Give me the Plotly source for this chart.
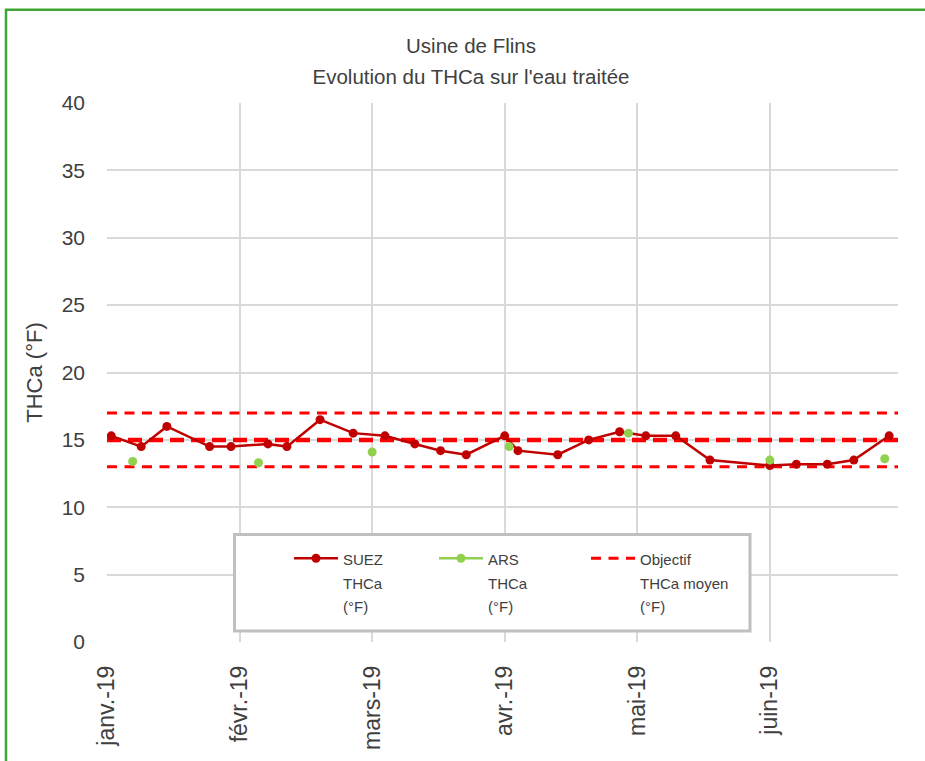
import plotly.graph_objects as go
import pandas as pd

# ---------------- data ----------------
title_lines = ["Usine de Flins", "Evolution du THCa sur l'eau traitée"]
y_axis_title = "THCa (°F)"
month_labels = ["janv.-19", "févr.-19", "mars-19", "avr.-19", "mai-19", "juin-19"]
axis_start_date = "2019-01-01"
axis_end_date = "2019-06-30"

suez_dates = ["2019-01-02", "2019-01-09", "2019-01-15", "2019-01-25", "2019-01-30",
              "2019-02-07", "2019-02-11", "2019-02-18", "2019-02-25", "2019-03-04",
              "2019-03-11", "2019-03-17", "2019-03-23", "2019-04-01", "2019-04-04",
              "2019-04-13", "2019-04-20", "2019-04-27", "2019-05-03", "2019-05-10",
              "2019-05-18", "2019-06-01", "2019-06-07", "2019-06-14", "2019-06-20",
              "2019-06-28"]
suez_values = [15.3, 14.5, 16.0, 14.5, 14.5,
               14.7, 14.5, 16.5, 15.5, 15.3,
               14.7, 14.2, 13.9, 15.3, 14.2,
               13.9, 15.0, 15.6, 15.3, 15.3,
               13.5, 13.1, 13.2, 13.2, 13.5,
               15.3]

ars_dates = ["2019-01-07", "2019-02-05", "2019-03-01", "2019-04-02",
             "2019-04-29", "2019-06-01", "2019-06-27"]
ars_values = [13.4, 13.3, 14.1, 14.5, 15.5, 13.5, 13.6]

objectif_values = [13, 15, 17]          # min, moyen, max
objectif_widths = [3, 4.5, 3]
objectif_dashes = ["10px,7.5px", "14px,7px", "10px,7.5px"]

suez_lines = ["SUEZ", "THCa", "(°F)"]
ars_lines = ["ARS", "THCa", "(°F)"]
obj_lines = ["Objectif", "THCa moyen", "(°F)"]

# ---------------- helpers ----------------
def month_pos(d):
    ts = pd.Timestamp(d)
    return (ts.month - 1) + (ts.day - 1) / ts.days_in_month

def small(lines, size):
    return "<br>".join(f'<span style="font-size:{size}px">{t}</span>' for t in lines)

x_start = month_pos(axis_start_date)
x_end = month_pos(axis_end_date)
suez_x = [month_pos(d) for d in suez_dates]
ars_x_pts = [month_pos(d) for d in ars_dates]
ars_x, ars_y = [], []
for xv, yv in zip(ars_x_pts, ars_values):
    ars_x += [xv, None]
    ars_y += [yv, None]

W, H = 925, 761
L, R, T, B = 107, 27, 103, 119
pw, ph = W - L - R, H - T - B

def px_x(p):
    return (p - L) / pw

def px_y(p):
    return (H - B - p) / ph

FONT = "Liberation Sans, Arial, sans-serif"
TXT = "#404040"
GRID = "#D9D9D9"

fig = go.Figure()

# objective lines
for i, (v, w, d) in enumerate(zip(objectif_values, objectif_widths, objectif_dashes)):
    fig.add_trace(go.Scatter(
        x=[x_start, x_end], y=[v, v], mode="lines",
        line=dict(color="#FF0000", width=w, dash=d),
        name=small(obj_lines, 15), legend="legend3", legendgroup="obj",
        showlegend=(i == 0), hoverinfo="skip"))

fig.add_trace(go.Scatter(
    x=suez_x, y=suez_values, mode="lines+markers",
    line=dict(color="#C00000", width=2.5),
    marker=dict(color="#C00000", size=9),
    name=small(suez_lines, 15), legend="legend"))

fig.add_trace(go.Scatter(
    x=ars_x, y=ars_y, mode="lines+markers", connectgaps=False,
    line=dict(color="#92D050", width=2.5),
    marker=dict(color="#92D050", size=9),
    name=small(ars_lines, 15), legend="legend2"))

legend_common = dict(
    orientation="v", xanchor="left", yanchor="top",
    bgcolor="rgba(0,0,0,0)", borderwidth=0, valign="top",
    font=dict(family=FONT, size=18, color=TXT), itemwidth=44,
    tracegroupgap=0)

fig.update_layout(
    width=W, height=H,
    margin=dict(l=L, r=R, t=T, b=B),
    paper_bgcolor="white", plot_bgcolor="white",
    title=dict(text=small(title_lines, 20.5), x=471 / W, xanchor="center",
               xref="container", yref="container", y=1 - 53 / H, yanchor="top",
               font=dict(family=FONT, size=24, color=TXT)),
    xaxis=dict(range=[x_start, x_end], tickmode="array",
               tickvals=list(range(len(month_labels))), ticktext=month_labels,
               tickangle=-90, showgrid=True, gridcolor=GRID, gridwidth=1.5,
               showline=False, zeroline=False, ticks="", ticklabelstandoff=18,
               tickfont=dict(family=FONT, size=23, color=TXT)),
    yaxis=dict(range=[0, 40], dtick=5, showgrid=True, gridcolor=GRID, gridwidth=1.5,
               zeroline=False, showline=False, ticks="", ticklabelstandoff=21,
               tickfont=dict(family=FONT, size=21, color=TXT),
               title=dict(text=y_axis_title, standoff=12,
                          font=dict(family=FONT, size=22, color=TXT))),
    legend=dict(x=px_x(289), y=px_y(540), **legend_common),
    legend2=dict(x=px_x(434), y=px_y(540), **legend_common),
    legend3=dict(x=px_x(586), y=px_y(540), **legend_common),
    showlegend=True,
)

# legend box
fig.add_shape(type="rect", xref="paper", yref="paper",
              x0=px_x(234.5), x1=px_x(750), y0=px_y(631), y1=px_y(534.5),
              line=dict(color="#BFBFBF", width=3), fillcolor="white", layer="above")
# outer green frame
fig.add_shape(type="rect", xref="paper", yref="paper",
              x0=px_x(6), x1=px_x(940), y0=px_y(780), y1=px_y(9.7),
              line=dict(color="#3FA535", width=2.5), fillcolor="rgba(0,0,0,0)",
              layer="above")

fig.write_html("out.html", config={"displayModeBar": False},
               post_script="document.body.style.margin='0px';")
